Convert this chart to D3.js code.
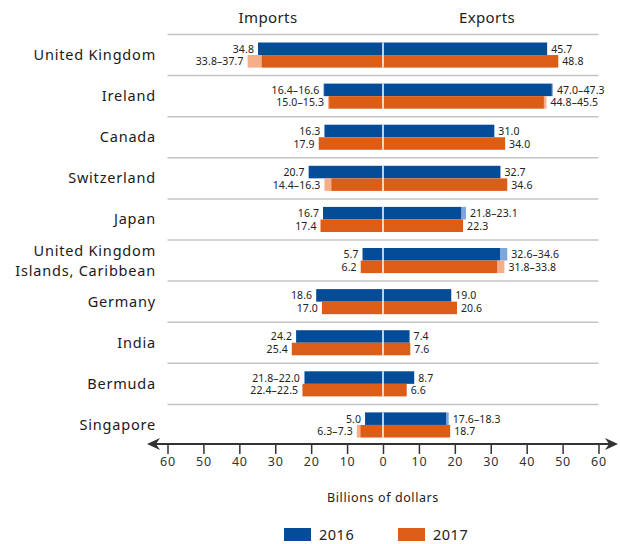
<!DOCTYPE html>
<html>
<head>
<meta charset="utf-8">
<script src="https://cdn.jsdelivr.net/npm/d3@7"></script>
<style>
  html, body { margin: 0; padding: 0; background: #fff; }
  svg { display: block; font-family: "Noto Sans", "Open Sans", sans-serif; }
</style>
</head>
<body>
<svg id="chart" width="620" height="544"></svg>
<script>
// Countries, top to bottom
const countries = [
  "United Kingdom", "Ireland", "Canada", "Switzerland", "Japan",
  "United Kingdom\nIslands, Caribbean", "Germany", "India", "Bermuda", "Singapore"
];

// Each value is [low, high]; a single estimate has low === high
const imports2016 = [[34.8,34.8],[16.4,16.6],[16.3,16.3],[20.7,20.7],[16.7,16.7],[5.7,5.7],[18.6,18.6],[24.2,24.2],[21.8,22.0],[5.0,5.0]];
const imports2017 = [[33.8,37.7],[15.0,15.3],[17.9,17.9],[14.4,16.3],[17.4,17.4],[6.2,6.2],[17.0,17.0],[25.4,25.4],[22.4,22.5],[6.3,7.3]];
const exports2016 = [[45.7,45.7],[47.0,47.3],[31.0,31.0],[32.7,32.7],[21.8,23.1],[32.6,34.6],[19.0,19.0],[7.4,7.4],[8.7,8.7],[17.6,18.3]];
const exports2017 = [[48.8,48.8],[44.8,45.5],[34.0,34.0],[34.6,34.6],[22.3,22.3],[31.8,33.8],[20.6,20.6],[7.6,7.6],[6.6,6.6],[18.7,18.7]];

const years = ["2016", "2017"];
const tickValues = [-60,-50,-40,-30,-20,-10,0,10,20,30,40,50,60];

const colors = {
  "2016": { solid: "#044c98", light: "#7ea6da" },
  "2017": { solid: "#dc5d18", light: "#f5ae88" }
};

const svg = d3.select("#chart");

const x = d3.scaleLinear().domain([-60, 60]).range([167.5, 598.5]);
const y = d3.scaleBand().domain(d3.range(countries.length)).range([34.5, 445.5]).paddingInner(0).paddingOuter(0);
const sub = d3.scaleBand().domain(years).range([8, y.bandwidth() - 8]);

const fmt = v => v.toFixed(1);
const labelText = d => d[0] === d[1] ? fmt(d[0]) : fmt(d[0]) + "\u2013" + fmt(d[1]);

// Column headers
svg.append("text").attr("x", 268).attr("y", 23).attr("text-anchor", "middle")
  .attr("font-size", 15).attr("letter-spacing", 0.4).attr("fill", "#222").text("Imports");
svg.append("text").attr("x", 487).attr("y", 23).attr("text-anchor", "middle")
  .attr("font-size", 15).attr("letter-spacing", 0.4).attr("fill", "#222").text("Exports");

// Row separators
svg.append("g").selectAll("line")
  .data(d3.range(countries.length))
  .join("line")
  .attr("x1", x(-60)).attr("x2", x(60))
  .attr("y1", i => y(i)).attr("y2", i => y(i))
  .attr("stroke", "#c4c4c4").attr("stroke-width", 1.5);

// Country labels
const labels = svg.append("g").selectAll("text")
  .data(countries)
  .join("text")
  .attr("text-anchor", "end")
  .attr("font-size", 14.5)
  .attr("letter-spacing", 0.8)
  .attr("fill", "#1a1a1a");
labels.each(function(name, i) {
  const lines = name.split("\n");
  const cy = y(i) + y.bandwidth() / 2;
  const t = d3.select(this);
  lines.forEach((ln, k) => {
    t.append("tspan")
      .attr("x", 156)
      .attr("y", cy + 5 + (k - (lines.length - 1) / 2) * 20)
      .text(ln);
  });
});

// Bars
const series = [
  { side: -1, year: "2016", values: imports2016 },
  { side: -1, year: "2017", values: imports2017 },
  { side: 1, year: "2016", values: exports2016 },
  { side: 1, year: "2017", values: exports2017 }
];

const barG = svg.append("g");
const labelG = svg.append("g");
series.forEach(s => {
  s.values.forEach((d, i) => {
    const top = y(i) + sub(s.year);
    const h = sub.bandwidth();
    const lowX = x(s.side * d[0]);
    const highX = x(s.side * d[1]);
    const zeroX = x(0);
    // uncertainty extension
    if (d[1] > d[0]) {
      barG.append("rect")
        .attr("x", Math.min(lowX, highX)).attr("width", Math.abs(highX - lowX))
        .attr("y", top).attr("height", h)
        .attr("fill", colors[s.year].light);
    }
    barG.append("rect")
      .attr("x", Math.min(zeroX, lowX)).attr("width", Math.abs(lowX - zeroX))
      .attr("y", top).attr("height", h)
      .attr("fill", colors[s.year].solid);
    labelG.append("text")
      .attr("x", highX + s.side * 4)
      .attr("y", top + h / 2 + 4)
      .attr("text-anchor", s.side < 0 ? "end" : "start")
      .attr("font-size", 10.5)
      .attr("letter-spacing", 0.1)
      .attr("fill", "#222")
      .text(labelText(d));
  });
});

// White divider at zero through the bars
countries.forEach((c, i) => {
  svg.append("line")
    .attr("x1", x(0)).attr("x2", x(0))
    .attr("y1", y(i) + sub("2016")).attr("y2", y(i) + sub("2017") + sub.bandwidth())
    .attr("stroke", "#fff").attr("stroke-width", 1.5);
});

// Axis
const axisY = 444;
const axis = d3.axisBottom(x)
  .tickValues(tickValues)
  .tickFormat(d => Math.abs(d))
  .tickSize(10)
  .tickPadding(3);
const axisG = svg.append("g").attr("transform", `translate(0,${axisY})`).call(axis);
axisG.select(".domain").remove();
axisG.selectAll(".tick line").attr("stroke", "#333").attr("stroke-width", 1.5);
axisG.selectAll(".tick text").attr("font-size", 12.5).attr("fill", "#333")
  .attr("font-family", "'Noto Sans', sans-serif").attr("letter-spacing", 0.8);

svg.append("line")
  .attr("x1", 152).attr("x2", 613)
  .attr("y1", axisY).attr("y2", axisY)
  .attr("stroke", "#333").attr("stroke-width", 1.8);
// arrowheads
svg.append("path")
  .attr("d", `M147,${axisY} L160,${axisY - 6} L156,${axisY} L160,${axisY + 6} Z`)
  .attr("fill", "#333");
svg.append("path")
  .attr("d", `M618,${axisY} L605,${axisY - 6} L609,${axisY} L605,${axisY + 6} Z`)
  .attr("fill", "#333");

svg.append("text").attr("x", x(0)).attr("y", 502).attr("text-anchor", "middle")
  .attr("font-size", 12.5).attr("letter-spacing", 0.6).attr("fill", "#222").text("Billions of dollars");

// Legend
const legend = svg.append("g").selectAll("g")
  .data(years)
  .join("g")
  .attr("transform", (d, i) => `translate(${284 + i * 114},528)`);
legend.append("rect").attr("width", 27).attr("height", 13)
  .attr("fill", d => colors[d].solid);
legend.append("text").attr("x", 35).attr("y", 12)
  .attr("font-size", 14.5).attr("letter-spacing", 0.5).attr("fill", "#222").text(d => d);
</script>
</body>
</html>
